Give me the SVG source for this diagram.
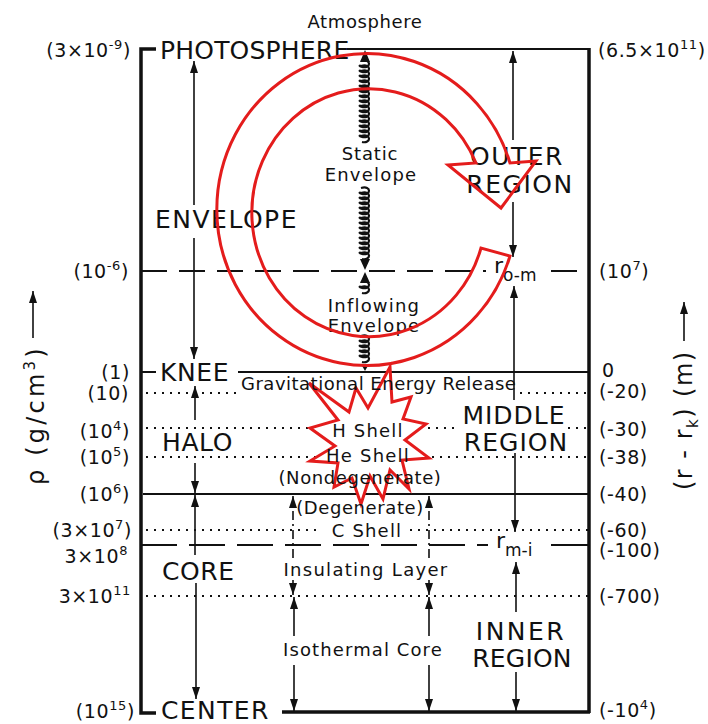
<svg xmlns="http://www.w3.org/2000/svg" width="708" height="724" viewBox="0 0 708 724">
<defs>
<style>
text{font-family:"DejaVu Sans","Liberation Sans",sans-serif;fill:#111}
.big{font-size:25px;letter-spacing:0.6px}
.sm{font-size:18px;letter-spacing:0.8px}
.num{font-size:19px;letter-spacing:0.6px}
.ln{stroke:#111;fill:none}
.arr{stroke:#111;stroke-width:1.6;fill:none;marker-end:url(#ah)}
.dd{stroke-dasharray:9 4 2 4}
.dot{stroke:#111;stroke-width:2;stroke-dasharray:2 6;fill:none}
.dash{stroke:#111;stroke-width:2;stroke-dasharray:26 12;fill:none}
.coil{stroke:#111;stroke-width:2.2;fill:none}
.red{stroke:#e41c1c;stroke-width:3;stroke-linejoin:miter}
</style>
<marker id="ah" markerUnits="userSpaceOnUse" markerWidth="12" markerHeight="8" refX="12" refY="4" orient="auto">
<path d="M0,0 L12,4 L0,8 z" fill="#111"/>
</marker>
</defs>
<rect width="708" height="724" fill="#fff"/>

<g id="frame">
<path class="ln" d="M156,49 H141 V713 H156" stroke-width="3.5"/>
<line class="ln" x1="347" y1="49" x2="590" y2="49" stroke-width="2"/>
<line class="ln" x1="589" y1="48" x2="589" y2="713" stroke-width="3.5"/>
<line class="ln" x1="282" y1="712" x2="590" y2="712" stroke-width="3.5"/>
</g>

<g id="levels">
<line class="dash" x1="141" y1="271" x2="486" y2="271"/>
<line class="dash" x1="551" y1="271" x2="589" y2="271"/>
<line class="ln" x1="141" y1="372" x2="156" y2="372" stroke-width="2"/>
<line class="ln" x1="238" y1="372" x2="589" y2="372" stroke-width="1.8"/>
<line class="dot" x1="146" y1="393" x2="240" y2="393"/>
<line class="dot" x1="520" y1="393" x2="589" y2="393"/>
<line class="dot" x1="146" y1="428" x2="322" y2="428"/>
<line class="dot" x1="412" y1="428" x2="460" y2="428"/>
<line class="dot" x1="568" y1="428" x2="589" y2="428"/>
<line class="dot" x1="146" y1="457" x2="322" y2="457"/>
<line class="dot" x1="416" y1="457" x2="589" y2="457"/>
<line class="ln" x1="143" y1="494" x2="589" y2="494" stroke-width="2"/>
<line class="dot" x1="146" y1="530" x2="322" y2="530"/>
<line class="dot" x1="410" y1="530" x2="589" y2="530"/>
<line class="dash" x1="141" y1="545" x2="488" y2="545" style="stroke-dasharray:36 12"/>
<line class="ln" x1="551" y1="545" x2="589" y2="545" stroke-width="2"/>
<line class="dot" x1="146" y1="596" x2="589" y2="596"/>
</g>

<g id="star">
<polygon class="red" fill="#fff" points="309,383 349,412 356,388 368,408 390,367 392,402 411,397 403,419 426,424 405,440 429,458 402,460 409,489 390,470 383,499 370,476 361,504 352,478 334,487 338,463 310,461 335,446 310,428 338,420"/>
</g>

<g id="connectors">
<line class="arr" x1="194" y1="205" x2="194" y2="61"/>
<line class="arr" x1="194" y1="238" x2="194" y2="359"/>
<line class="arr" x1="195" y1="420" x2="195" y2="386"/>
<line class="arr" x1="195" y1="463" x2="195" y2="493"/>
<line class="arr" x1="195" y1="555" x2="195" y2="495"/>
<line class="arr" x1="196" y1="583" x2="196" y2="699"/>

<line class="arr dd" x1="293" y1="558" x2="293" y2="496"/>
<line class="arr" x1="293" y1="580" x2="293" y2="595"/>
<line class="arr" x1="294" y1="636" x2="294" y2="597"/>
<line class="arr" x1="294" y1="665" x2="294" y2="711"/>

<line class="arr dd" x1="429" y1="558" x2="429" y2="496"/>
<line class="arr" x1="429" y1="580" x2="429" y2="595"/>
<line class="arr" x1="429" y1="636" x2="429" y2="597"/>
<line class="arr" x1="429" y1="665" x2="429" y2="711"/>

<line class="arr" x1="513" y1="140" x2="513" y2="51"/>
<line class="arr" x1="513" y1="202" x2="513" y2="257"/>
<line class="arr" x1="514" y1="400" x2="514" y2="286"/>
<line class="arr" x1="515" y1="453" x2="515" y2="532"/>
<line class="arr" x1="516" y1="612" x2="516" y2="562"/>
<line class="arr" x1="516" y1="672" x2="516" y2="711"/>

<line class="arr" x1="33" y1="338" x2="33" y2="291"/>
<line class="arr" x1="684" y1="341" x2="684" y2="302"/>

<g id="coil">
<polygon points="360,62 370,62 365,50" fill="#111"/>
<path class="coil" d="M361,61 c11,-3 10,8 1,6 c-3,-0.5 -3,-2 -1,-1 c11,-3 10,8 1,6 c-3,-0.5 -3,-2 -1,-1 c11,-3 10,8 1,6 c-3,-0.5 -3,-2 -1,-1 c11,-3 10,8 1,6 c-3,-0.5 -3,-2 -1,-1 c11,-3 10,8 1,6 c-3,-0.5 -3,-2 -1,-1 c11,-3 10,8 1,6 c-3,-0.5 -3,-2 -1,-1 c11,-3 10,8 1,6 c-3,-0.5 -3,-2 -1,-1 c11,-3 10,8 1,6 c-3,-0.5 -3,-2 -1,-1 c11,-3 10,8 1,6 c-3,-0.5 -3,-2 -1,-1 c11,-3 10,8 1,6 c-3,-0.5 -3,-2 -1,-1 c11,-3 10,8 1,6 c-3,-0.5 -3,-2 -1,-1 c11,-3 10,8 1,6 c-3,-0.5 -3,-2 -1,-1 c11,-3 10,8 1,6 c-3,-0.5 -3,-2 -1,-1 c11,-3 10,8 1,6 c-3,-0.5 -3,-2 -1,-1 c11,-3 10,8 1,6 c-3,-0.5 -3,-2 -1,-1 c11,-3 10,8 1,6"/>
<path class="coil" d="M361,188 c11,-3 10,8 1,6 c-3,-0.5 -3,-2 -1,-1 c11,-3 10,8 1,6 c-3,-0.5 -3,-2 -1,-1 c11,-3 10,8 1,6 c-3,-0.5 -3,-2 -1,-1 c11,-3 10,8 1,6 c-3,-0.5 -3,-2 -1,-1 c11,-3 10,8 1,6 c-3,-0.5 -3,-2 -1,-1 c11,-3 10,8 1,6 c-3,-0.5 -3,-2 -1,-1 c11,-3 10,8 1,6 c-3,-0.5 -3,-2 -1,-1 c11,-3 10,8 1,6 c-3,-0.5 -3,-2 -1,-1 c11,-3 10,8 1,6 c-3,-0.5 -3,-2 -1,-1 c11,-3 10,8 1,6 c-3,-0.5 -3,-2 -1,-1 c11,-3 10,8 1,6 c-3,-0.5 -3,-2 -1,-1 c11,-3 10,8 1,6 c-3,-0.5 -3,-2 -1,-1 c11,-3 10,8 1,6 c-3,-0.5 -3,-2 -1,-1 c11,-3 10,8 1,6"/>
<polygon points="360,259 370,259 365,270" fill="#111"/>
<polygon points="360,283 370,283 365,272" fill="#111"/>
<path class="coil" d="M361,282 c11,-3 10,8 1,6 c-3,-0.5 -3,-2 -1,-1 c11,-3 10,8 1,6"/>
<path class="coil" d="M361,336 c11,-3 10,8 1,6 c-3,-0.5 -3,-2 -1,-1 c11,-3 10,8 1,6 c-3,-0.5 -3,-2 -1,-1 c11,-3 10,8 1,6 c-3,-0.5 -3,-2 -1,-1 c11,-3 10,8 1,6 c-3,-0.5 -3,-2 -1,-1 c11,-3 10,8 1,6"/>
<polygon points="361,364 369,364 365,371" fill="#111"/>
</g>
</g>

<g id="left-scale">
<text class="num" x="131" y="57" text-anchor="end">(3×10<tspan dy="-8" font-size="13">-9</tspan><tspan dy="8">)</tspan></text>
<text class="num" x="129" y="278" text-anchor="end">(10<tspan dy="-8" font-size="13">-6</tspan><tspan dy="8">)</tspan></text>
<text class="num" x="130" y="379" text-anchor="end">(1)</text>
<text class="num" x="129" y="400" text-anchor="end">(10)</text>
<text class="num" x="130" y="438" text-anchor="end">(10<tspan dy="-8" font-size="13">4</tspan><tspan dy="8">)</tspan></text>
<text class="num" x="130" y="464" text-anchor="end">(10<tspan dy="-8" font-size="13">5</tspan><tspan dy="8">)</tspan></text>
<text class="num" x="130" y="501" text-anchor="end">(10<tspan dy="-8" font-size="13">6</tspan><tspan dy="8">)</tspan></text>
<text class="num" x="132" y="537" text-anchor="end">(3×10<tspan dy="-8" font-size="13">7</tspan><tspan dy="8">)</tspan></text>
<text class="num" x="128" y="563" text-anchor="end">3×10<tspan dy="-8" font-size="13">8</tspan></text>
<text class="num" x="131" y="603" text-anchor="end">3×10<tspan dy="-8" font-size="13">11</tspan></text>
<text class="num" x="135" y="718" text-anchor="end">(10<tspan dy="-8" font-size="13">15</tspan><tspan dy="8">)</tspan></text>
</g>

<g id="right-scale">
<text class="num" x="598" y="57">(6.5×10<tspan dy="-8" font-size="13">11</tspan><tspan dy="8">)</tspan></text>
<text class="num" x="599" y="278">(10<tspan dy="-8" font-size="13">7</tspan><tspan dy="8">)</tspan></text>
<text class="num" x="602" y="377">0</text>
<text class="num" x="599" y="398">(-20)</text>
<text class="num" x="599" y="436">(-30)</text>
<text class="num" x="599" y="464">(-38)</text>
<text class="num" x="599" y="501">(-40)</text>
<text class="num" x="599" y="537">(-60)</text>
<text class="num" x="599" y="557">(-100)</text>
<text class="num" x="599" y="603">(-700)</text>
<text class="num" x="599" y="717">(-10<tspan dy="-8" font-size="13">4</tspan><tspan dy="8">)</tspan></text>
</g>

<g id="axis-left">
<text transform="translate(44,485) rotate(-90)" font-size="24" style="letter-spacing:3.2px">ρ (g/cm<tspan dy="-9" font-size="15">3</tspan><tspan dy="9">)</tspan></text>
</g>
<g id="axis-right">
<text transform="translate(692,490) rotate(-90)" font-size="24" style="letter-spacing:1.5px">(r - r<tspan dy="6" font-size="15">k</tspan><tspan dy="-6">)</tspan><tspan dx="10">(m)</tspan></text>
</g>

<g id="atmosphere"><text class="sm" x="365" y="28" text-anchor="middle" style="letter-spacing:0.6px">Atmosphere</text></g>
<g id="photosphere"><text class="big" x="160" y="59" style="letter-spacing:0.2px">PHOTOSPHERE</text></g>
<g id="envelope"><text class="big" x="155" y="228" style="letter-spacing:1.5px">ENVELOPE</text></g>
<g id="knee"><text class="big" x="160" y="381">KNEE</text></g>
<g id="halo"><text class="big" x="162" y="451">HALO</text></g>
<g id="core"><text class="big" x="162" y="580">CORE</text></g>
<g id="center"><text class="big" x="161" y="719" font-size="24" style="letter-spacing:1.4px">CENTER</text></g>

<g id="outer-region">
<text class="big" x="517" y="165" text-anchor="middle" style="letter-spacing:1.5px">OUTER</text>
<text class="big" x="520" y="193" text-anchor="middle" style="letter-spacing:1.5px">REGION</text>
</g>
<g id="middle-region">
<text class="big" x="514" y="424" text-anchor="middle" font-size="24" style="letter-spacing:1px">MIDDLE</text>
<text class="big" x="516" y="451" text-anchor="middle" font-size="24" style="letter-spacing:1px">REGION</text>
</g>
<g id="inner-region">
<text class="big" x="521" y="640" text-anchor="middle" style="letter-spacing:2.5px">INNER</text>
<text class="big" x="522" y="667" text-anchor="middle" style="letter-spacing:0.2px">REGION</text>
</g>

<g id="static-envelope">
<text class="sm" x="370" y="160" text-anchor="middle">Static</text>
<text class="sm" x="371" y="181" text-anchor="middle" style="letter-spacing:1.2px">Envelope</text>
</g>
<g id="inflowing-envelope">
<text class="sm" x="374" y="312" text-anchor="middle" style="letter-spacing:1.2px">Inflowing</text>
<text class="sm" x="374" y="332" text-anchor="middle" style="letter-spacing:1.2px">Envelope</text>
</g>
<g id="gravitational"><text class="sm" x="241" y="390" style="letter-spacing:0.5px">Gravitational Energy Release</text></g>
<g id="h-shell"><text class="sm" x="368" y="437" text-anchor="middle" style="letter-spacing:1.2px">H Shell</text></g>
<g id="he-shell"><text class="sm" x="368" y="462" text-anchor="middle" style="letter-spacing:1.2px">He Shell</text></g>
<g id="nondegenerate"><text class="sm" x="360" y="484" text-anchor="middle" style="letter-spacing:0.6px">(Nondegenerate)</text></g>
<g id="degenerate"><text class="sm" x="360" y="514" text-anchor="middle" style="letter-spacing:0.6px">(Degenerate)</text></g>
<g id="c-shell"><text class="sm" x="367" y="537" text-anchor="middle" style="letter-spacing:1.2px">C Shell</text></g>
<g id="insulating"><text class="sm" x="366" y="576" text-anchor="middle" style="letter-spacing:1.3px">Insulating Layer</text></g>
<g id="isothermal"><text class="sm" x="363" y="656" text-anchor="middle" style="letter-spacing:1.1px">Isothermal Core</text></g>

<g id="r-om"><text x="494" y="273" font-size="22">r<tspan dy="8" font-size="17">o-m</tspan></text></g>
<g id="r-mi"><text x="496" y="548" font-size="22">r<tspan dy="8" font-size="17">m-i</tspan></text></g>

<g id="flow-arrow">
<path class="red" fill="none" d="M476,163 A117,124 0 1 0 481,248 L510,256 A150,156 0 1 1 510,163 L536,161 L501,208 L448,165 Z"/>
</g>
</svg>
